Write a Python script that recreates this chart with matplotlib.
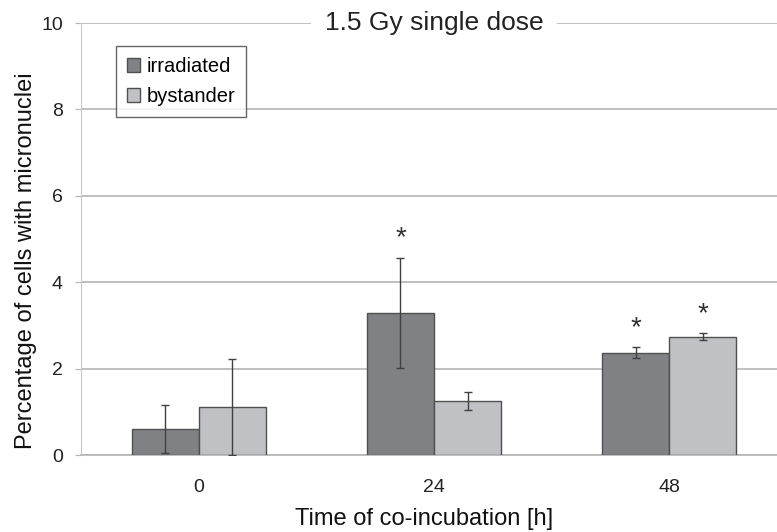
import numpy as np
import matplotlib
matplotlib.use("Agg")
import matplotlib.pyplot as plt

plt.rcParams['font.family'] = ['Liberation Sans', 'DejaVu Sans']

# data
times = ["0", "24", "48"]
irradiated = [0.60, 3.29, 2.37]
irradiated_err = [0.56, 1.27, 0.12]
bystander = [1.11, 1.25, 2.74]
bystander_err = [1.11, 0.21, 0.08]
irr_sig = [False, True, True]
bys_sig = [False, False, True]

fig = plt.figure(figsize=(7.77, 5.32), dpi=100)
ax = fig.add_axes([81/777, 1-455/532, 706/777, 432/532])

x = np.arange(len(times))
w = 0.285
ax.bar(x - w/2, irradiated, w, color='#808184', edgecolor='#505050', linewidth=1,
       label='irradiated', zorder=3)
ax.bar(x + w/2, bystander, w, color='#c0c1c4', edgecolor='#505050', linewidth=1,
       label='bystander', zorder=3)
ax.errorbar(x - w/2, irradiated, yerr=irradiated_err, fmt='none', ecolor='#404040',
            elinewidth=1, capsize=3, capthick=1, zorder=4)
ax.errorbar(x + w/2, bystander, yerr=bystander_err, fmt='none', ecolor='#404040',
            elinewidth=1, capsize=3, capthick=1, zorder=4)

# significance stars
for xi, v, e, s in zip(x - w/2, irradiated, irradiated_err, irr_sig):
    if s:
        ax.text(xi, v + e + 0.45, '*', ha='center', va='center', fontsize=20, color='#303030')
for xi, v, e, s in zip(x + w/2, bystander, bystander_err, bys_sig):
    if s:
        ax.text(xi, v + e + 0.45, '*', ha='center', va='center', fontsize=20, color='#303030')

ax.set_xlim(-0.5, 2.5)
ax.set_ylim(0, 10)
ax.set_yticks([0, 2, 4, 6, 8, 10])
ax.set_xticks(x)
ax.set_xticklabels(times)
ax.grid(axis='y', color='#b4b4b4', linewidth=1.2, zorder=0)
for s in ['top', 'right']:
    ax.spines[s].set_visible(False)
ax.spines['left'].set_color('#c8c8c8')
ax.spines['bottom'].set_color('#b4b4b4')
ax.spines['bottom'].set_linewidth(1.2)
ax.tick_params(axis='x', length=0, pad=17, labelsize=14, labelcolor='#222222')
ax.tick_params(axis='y', length=4, color='#b4b4b4', pad=9, labelsize=14, labelcolor='#222222')

ax.set_ylabel('Percentage of cells with micronuclei', fontsize=17, color='#111111')
ax.yaxis.set_label_coords(-0.062, 0.45)
ax.set_xlabel('Time of co-incubation [h]', fontsize=17, color='#111111')
ax.xaxis.set_label_coords(0.486, -0.122)

ax.text(0.5, 1.0, '1.5 Gy single dose', transform=ax.transAxes, ha='center', va='center',
        fontsize=19, color='#222222', zorder=5,
        bbox=dict(facecolor='white', edgecolor='none', pad=10))

leg = ax.legend(loc='upper left', bbox_to_anchor=(116/777, 1-46/532), bbox_transform=fig.transFigure,
                fontsize=14.5, frameon=True, fancybox=False, handlelength=0.65, handleheight=0.65,
                handletextpad=0.3, labelspacing=0.55, borderpad=0.55, borderaxespad=0)
leg.get_frame().set_edgecolor('#404040')
leg.get_frame().set_linewidth(1)

fig.savefig('out.png', dpi=100)
